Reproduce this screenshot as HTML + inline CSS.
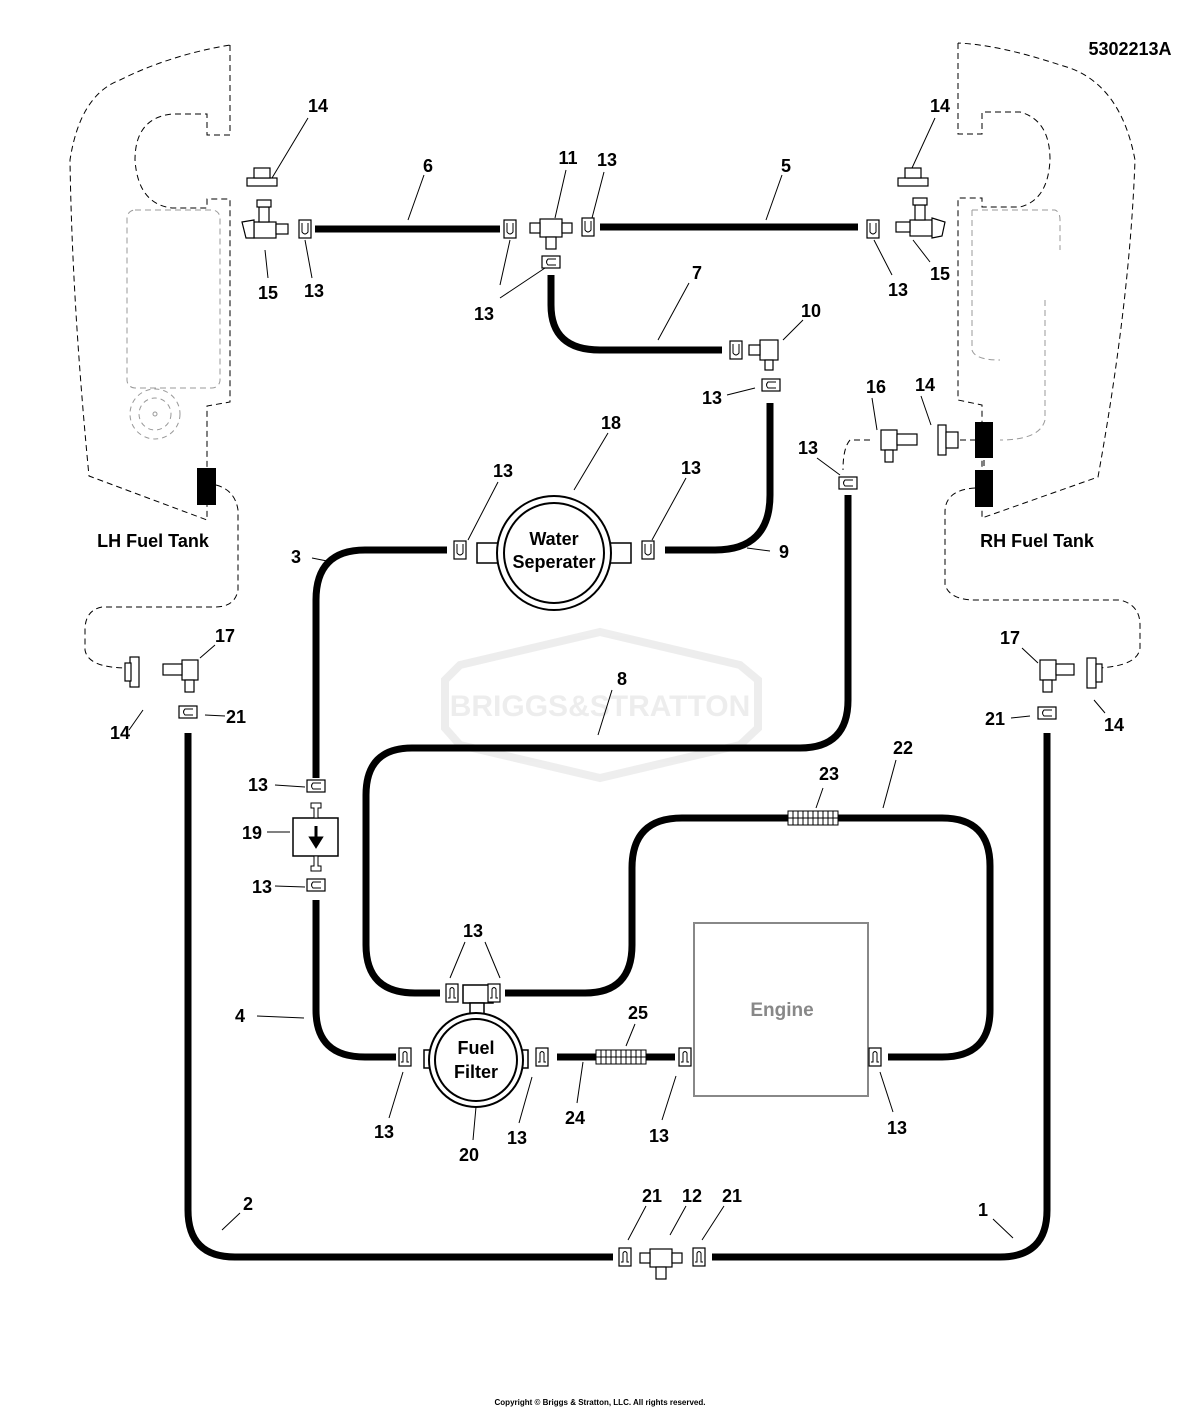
<!DOCTYPE html>
<html><head><meta charset="utf-8"><style>
html,body{margin:0;padding:0;background:#fff}
svg{display:block}
text{font-family:"Liberation Sans",Arial,sans-serif;font-weight:bold;fill:#000}
</style></head><body>
<svg width="1200" height="1409" viewBox="0 0 1200 1409" xmlns="http://www.w3.org/2000/svg">
<defs>
<g id="clipV"><rect x="-6" y="-9" width="12" height="18" fill="#fff" stroke="#000" stroke-width="1.2"/><path d="M-3,-6 L-3,3 Q0,7 3,3 L3,-6" fill="none" stroke="#000" stroke-width="1"/></g>
<g id="clipA"><rect x="-6" y="-9" width="12" height="18" fill="#fff" stroke="#000" stroke-width="1.2"/><path d="M-4,5 L-2,5 L-2,-4 Q0,-7 2,-4 L2,5 L4,5" fill="none" stroke="#000" stroke-width="1"/></g>
<g id="clipH"><rect x="-9" y="-6" width="18" height="12" fill="#fff" stroke="#000" stroke-width="1.2"/><path d="M5,-3 L-3,-3 Q-6,0 -3,3 L5,3" fill="none" stroke="#000" stroke-width="1"/></g>
<g id="coil"><rect x="0" y="-7" width="50" height="14" fill="#fff" stroke="#000" stroke-width="1"/><path d="M5,-7v14M10,-7v14M15,-7v14M20,-7v14M25,-7v14M30,-7v14M35,-7v14M40,-7v14M45,-7v14M0,0h50" stroke="#000" stroke-width="1"/></g>
</defs>

<!-- watermark -->
<g opacity="0.9">
<path d="M445,680 L460,665 L600,632 L740,665 L758,680 L758,728 L740,745 L600,778 L460,745 L445,728 Z" fill="none" stroke="#ececec" stroke-width="8"/>
<text x="600" y="716" font-size="30" text-anchor="middle" style="fill:#ececec">BRIGGS&amp;STRATTON</text>
</g>

<!-- LH tank -->
<g fill="none" stroke="#000" stroke-width="1" stroke-dasharray="6,4">
<path d="M230,45 L230,135 L207,135 L207,114 L172,114 Q135,118 135,160 Q138,204 172,208 L207,208 L207,199 L230,199 L230,402 L207,406 L207,520 L89,476 Q72,300 70,160 Q80,95 120,80 Q170,55 230,45"/>
<path d="M216,485 Q235,490 238,510 L238,590 Q235,607 215,607 L102,607 Q86,610 85,628 L85,650 Q88,668 128,668"/>
</g>
<rect x="127" y="210" width="93" height="178" rx="8" fill="none" stroke="#999" stroke-width="1" stroke-dasharray="6,4"/>
<circle cx="155" cy="414" r="25" fill="none" stroke="#999" stroke-dasharray="5,4"/>
<circle cx="155" cy="414" r="16" fill="none" stroke="#999" stroke-dasharray="5,4"/>
<circle cx="155" cy="414" r="2" fill="none" stroke="#999"/>
<rect x="197" y="468" width="19" height="37" fill="#000"/>

<!-- RH tank -->
<g fill="none" stroke="#000" stroke-width="1" stroke-dasharray="6,4">
<path d="M958,43 L958,134 L982,134 L982,112 L1020,112 Q1050,120 1050,160 Q1048,200 1020,207 L982,207 L982,198 L958,198 L958,400 L982,405 L982,518 L1098,477 Q1130,300 1135,160 Q1120,80 1060,65 Q1000,45 958,43"/>
<path d="M975,488 Q945,490 945,512 L945,585 Q950,600 975,600 L1120,600 Q1140,605 1140,625 L1140,648 Q1138,666 1098,668"/>
<path d="M984,440 L984,470"/>
<path d="M940,440 L975,440 M870,440 L850,440 Q843,448 843,470"/>
</g>
<path d="M972,210 L1055,210 Q1060,212 1060,220 L1060,250 M1045,300 L1045,420 Q1040,440 1000,440 M972,210 L972,350 Q975,360 1000,360" fill="none" stroke="#999" stroke-dasharray="6,4"/>
<rect x="975" y="422" width="18" height="36" fill="#000"/>
<rect x="975" y="470" width="18" height="37" fill="#000"/>

<!-- hoses -->
<g fill="none" stroke="#000" stroke-width="7">
<path d="M315,229 H500"/>
<path d="M600,227 H858"/>
<path d="M551,275 V305 Q551,350 600,350 H722"/>
<path d="M770,403 V495 Q770,550 715,550 H665"/>
<path d="M447,550 H365 Q316,550 316,600 V778"/>
<path d="M316,900 V1010 Q316,1057 365,1057 H396"/>
<path d="M848,495 V700 Q848,748 800,748 H412 Q366,748 366,795 V945 Q366,993 415,993 H440"/>
<path d="M505,993 H585 Q632,993 632,945 V868 Q632,818 682,818 H942 Q990,818 990,866 V1010 Q990,1057 942,1057 H888"/>
<path d="M557,1057 H675"/>
<path d="M188,733 V1210 Q188,1257 235,1257 H613"/>
<path d="M712,1257 H1000 Q1047,1257 1047,1210 V733"/>
</g>
<use href="#coil" x="596" y="1057"/>
<use href="#coil" x="788" y="818"/>

<!-- water separator -->
<rect x="477" y="543" width="154" height="20" fill="#fff" stroke="#000" stroke-width="1.5"/>
<circle cx="554" cy="553" r="57" fill="#fff" stroke="#000" stroke-width="2"/>
<circle cx="554" cy="553" r="50" fill="#fff" stroke="#000" stroke-width="2"/>
<text x="554" y="545" font-size="18" text-anchor="middle">Water</text>
<text x="554" y="568" font-size="18" text-anchor="middle">Seperater</text>

<!-- fuel filter -->
<rect x="463" y="985" width="30" height="18" fill="#fff" stroke="#000" stroke-width="1.5"/>
<rect x="470" y="1003" width="14" height="15" fill="#fff" stroke="#000" stroke-width="1.5"/>
<rect x="424" y="1050" width="104" height="18" fill="#fff" stroke="#000" stroke-width="1.5"/>
<circle cx="476" cy="1060" r="47" fill="#fff" stroke="#000" stroke-width="2"/>
<circle cx="476" cy="1060" r="41" fill="#fff" stroke="#000" stroke-width="2"/>
<text x="476" y="1054" font-size="18" text-anchor="middle">Fuel</text>
<text x="476" y="1078" font-size="18" text-anchor="middle">Filter</text>

<!-- engine -->
<rect x="694" y="923" width="174" height="173" fill="#fff" stroke="#888" stroke-width="2"/>
<text x="782" y="1016" font-size="19" text-anchor="middle" style="fill:#888">Engine</text>

<!-- inline filter 19 -->
<rect x="293" y="818" width="45" height="38" fill="#fff" stroke="#000" stroke-width="1.5"/>
<path d="M311,803 h10 v5 h-3 v10 h-4 v-10 h-3z M311,871 h10 v-5 h-3 v-10 h-4 v10 h-3z" fill="#fff" stroke="#000"/>
<path d="M316,826 V840 M311,838 L316,846 L321,838Z" stroke="#000" stroke-width="3" fill="#000"/>

<!-- tees 11, 12 -->
<g stroke="#000" stroke-width="1.2" fill="#fff">
<rect x="540" y="219" width="22" height="18"/><rect x="530" y="223" width="10" height="10"/><rect x="562" y="223" width="10" height="10"/><rect x="546" y="237" width="10" height="12"/>
<rect x="650" y="1249" width="22" height="18"/><rect x="640" y="1253" width="10" height="10"/><rect x="672" y="1253" width="10" height="10"/><rect x="656" y="1267" width="10" height="12"/>
</g>

<!-- fittings 15 -->
<g stroke="#000" stroke-width="1.2" fill="#fff">
<rect x="254" y="222" width="22" height="16"/><rect x="259" y="207" width="10" height="15"/><rect x="257" y="200" width="14" height="7"/><rect x="276" y="224" width="12" height="10"/>
<path d="M242,222 L254,220 L254,238 L246,238 Z"/>
<rect x="910" y="220" width="22" height="16"/><rect x="915" y="205" width="10" height="15"/><rect x="913" y="198" width="14" height="7"/><rect x="896" y="222" width="14" height="10"/>
<path d="M932,218 L945,222 L942,236 L932,238 Z"/>
<!-- 14 caps top -->
<rect x="247" y="178" width="30" height="8"/><rect x="254" y="168" width="16" height="10"/>
<rect x="898" y="178" width="30" height="8"/><rect x="905" y="168" width="16" height="10"/>
<!-- 10 elbow -->
<rect x="760" y="340" width="18" height="20"/><rect x="749" y="345" width="11" height="10"/><rect x="765" y="360" width="8" height="10"/>
<!-- 16 -->
<rect x="881" y="430" width="16" height="20"/><rect x="897" y="434" width="20" height="11"/><rect x="885" y="450" width="8" height="12"/>
<rect x="938" y="425" width="8" height="30"/><rect x="946" y="432" width="12" height="16"/>
<!-- LH 14, 17 -->
<rect x="130" y="657" width="9" height="30"/><rect x="125" y="663" width="6" height="18"/>
<rect x="182" y="660" width="16" height="20"/><rect x="163" y="664" width="19" height="11"/><rect x="185" y="680" width="9" height="12"/>
<!-- RH 14, 17 -->
<rect x="1087" y="658" width="9" height="30"/><rect x="1096" y="664" width="6" height="18"/>
<rect x="1040" y="660" width="16" height="20"/><rect x="1056" y="664" width="18" height="11"/><rect x="1043" y="680" width="9" height="12"/>
</g>

<!-- clips -->
<use href="#clipV" x="305" y="229"/><use href="#clipV" x="510" y="229"/><use href="#clipV" x="588" y="227"/>
<use href="#clipH" x="551" y="262"/><use href="#clipV" x="873" y="229"/><use href="#clipV" x="736" y="350"/>
<use href="#clipH" x="771" y="385"/><use href="#clipV" x="460" y="550"/><use href="#clipV" x="648" y="550"/>
<use href="#clipH" x="848" y="483"/><use href="#clipH" x="316" y="786"/><use href="#clipH" x="316" y="885"/>
<use href="#clipH" x="188" y="712"/><use href="#clipH" x="1047" y="713"/>
<use href="#clipA" x="452" y="993"/><use href="#clipA" x="494" y="993"/><use href="#clipA" x="405" y="1057"/>
<use href="#clipA" x="542" y="1057"/><use href="#clipA" x="685" y="1057"/><use href="#clipA" x="875" y="1057"/>
<use href="#clipA" x="625" y="1257"/><use href="#clipA" x="699" y="1257"/>

<!-- leader lines -->
<g stroke="#000" stroke-width="1" fill="none">
<path d="M308,118 L272,178 M424,175 L408,220 M566,170 L555,218 M604,172 L592,218 M782,175 L766,220 M935,118 L912,168"/>
<path d="M265,250 L268,278 M305,240 L312,278 M510,240 L500,285 M545,268 L500,298 M689,283 L658,340 M803,320 L783,340"/>
<path d="M874,240 L892,275 M913,240 L930,262 M727,395 L755,388 M608,433 L574,490 M872,398 L877,430 M921,396 L931,425"/>
<path d="M498,482 L468,540 M686,478 L652,540 M817,458 L840,475 M312,558 L332,562 M747,548 L770,551"/>
<path d="M215,645 L200,658 M143,710 L129,730 M205,715 L225,716 M612,690 L598,735 M1022,648 L1038,663 M1105,713 L1094,700 M1011,718 L1030,716"/>
<path d="M896,760 L883,808 M823,788 L816,808 M275,785 L305,787 M267,832 L290,832 M275,886 L305,887"/>
<path d="M465,942 L450,978 M485,942 L500,978 M257,1016 L304,1018 M635,1024 L626,1046 M389,1118 L403,1072 M473,1140 L476,1107 M519,1123 L532,1077 M577,1103 L583,1062 M662,1120 L676,1076 M893,1112 L880,1072"/>
<path d="M240,1213 L222,1230 M646,1206 L628,1240 M686,1206 L670,1235 M724,1206 L702,1240 M993,1219 L1013,1238"/>
</g>

<!-- labels -->
<g font-size="18" text-anchor="middle">
<text x="318" y="112">14</text><text x="428" y="172">6</text><text x="568" y="164">11</text><text x="607" y="166">13</text>
<text x="786" y="172">5</text><text x="940" y="112">14</text><text x="268" y="299">15</text><text x="314" y="297">13</text>
<text x="484" y="320">13</text><text x="697" y="279">7</text><text x="811" y="317">10</text><text x="898" y="296">13</text>
<text x="940" y="280">15</text><text x="712" y="404">13</text><text x="611" y="429">18</text><text x="876" y="393">16</text>
<text x="925" y="391">14</text><text x="503" y="477">13</text><text x="691" y="474">13</text><text x="808" y="454">13</text>
<text x="296" y="563">3</text><text x="784" y="558">9</text>
<text x="225" y="642">17</text><text x="120" y="739">14</text><text x="236" y="723">21</text><text x="622" y="685">8</text>
<text x="1010" y="644">17</text><text x="1114" y="731">14</text><text x="995" y="725">21</text>
<text x="903" y="754">22</text><text x="829" y="780">23</text><text x="258" y="791">13</text><text x="252" y="839">19</text>
<text x="262" y="893">13</text><text x="473" y="937">13</text><text x="240" y="1022">4</text><text x="638" y="1019">25</text>
<text x="384" y="1138">13</text><text x="469" y="1161">20</text><text x="517" y="1144">13</text><text x="575" y="1124">24</text>
<text x="659" y="1142">13</text><text x="897" y="1134">13</text><text x="248" y="1210">2</text>
<text x="652" y="1202">21</text><text x="692" y="1202">12</text><text x="732" y="1202">21</text><text x="983" y="1216">1</text>
<text x="153" y="547">LH Fuel Tank</text><text x="1037" y="547">RH Fuel Tank</text>
<text x="1130" y="55">5302213A</text>
</g>
<text x="600" y="1405" font-size="8" text-anchor="middle">Copyright © Briggs &amp; Stratton, LLC. All rights reserved.</text>
</svg>
</body></html>
